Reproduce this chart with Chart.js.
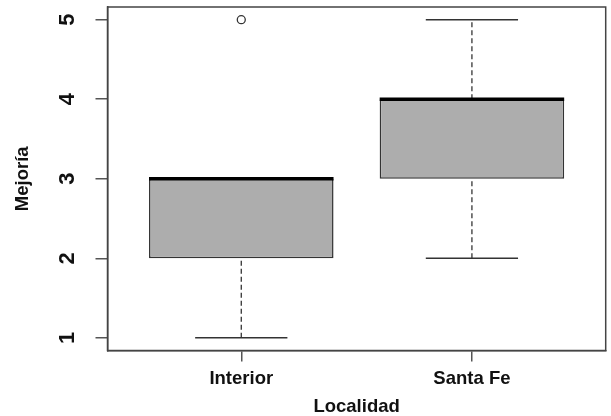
<!DOCTYPE html>
<html>
<head>
<meta charset="utf-8">
<script src="https://cdn.jsdelivr.net/npm/chart.js@4.4.1/dist/chart.umd.min.js"></script>
<style>
  html, body { margin: 0; padding: 0; background: #ffffff; }
  canvas { display: block; }
</style>
</head>
<body>
<canvas id="c" width="611" height="416"></canvas>
<script>
// Box plot summary of "Mejoría" per "Localidad"
const categories   = ['Interior', 'Santa Fe'];
const positions    = [1, 2];
const whiskerLow   = [1, 2];
const q1           = [2, 3];
const median       = [3, 4];
const q3           = [3, 4];
const whiskerHigh  = [3, 5];
const outlierGroup = [0];
const outlierValue = [5];
const yTicks       = [1, 2, 3, 4, 5];

// Geometry in data units along the group axis
const BOX_HALF = 0.4;
const CAP_HALF = 0.2;

const FONT = '"Liberation Sans", Arial, Helvetica, sans-serif';
const INK = '#111111';
const LINE = '#333333';

// Build segment lists (null point breaks the line between segments)
function segments(list) {
  const out = [];
  list.forEach(([x0, y0, x1, y1]) => {
    out.push({ x: x0, y: y0 }, { x: x1, y: y1 }, { x: x1, y: null });
  });
  return out;
}

const whiskerSegs = segments(positions.flatMap((p, i) => [
  [p, whiskerLow[i], p, q1[i]],
  [p, q3[i], p, whiskerHigh[i]]
]));
const capSegs = segments(positions.flatMap((p, i) => [
  [p - CAP_HALF, whiskerLow[i], p + CAP_HALF, whiskerLow[i]],
  [p - CAP_HALF, whiskerHigh[i], p + CAP_HALF, whiskerHigh[i]]
]));
const medianSegs = segments(positions.map((p, i) =>
  [p - BOX_HALF, median[i], p + BOX_HALF, median[i]]
));
const boxData = positions.map((p, i) => ({ x: p, y: [q1[i], q3[i]] }));
const outlierData = outlierGroup.map((g, i) => ({ x: positions[g], y: outlierValue[i] }));

// Full frame around the plotting region
const framePlugin = {
  id: 'frame',
  afterDatasetsDraw(chart) {
    const { ctx, chartArea: a } = chart;
    ctx.save();
    ctx.strokeStyle = '#444444';
    ctx.lineWidth = 1.5;
    ctx.strokeRect(a.left, a.top, a.right - a.left, a.bottom - a.top);
    ctx.restore();
  }
};

// Vertical-axis tick labels written parallel to the axis
const yLabelPlugin = {
  id: 'yLabels',
  afterDraw(chart) {
    const ys = chart.scales.y;
    const ctx = chart.ctx;
    ctx.save();
    ctx.font = 'bold 22px ' + FONT;
    ctx.fillStyle = INK;
    ctx.textAlign = 'center';
    ctx.textBaseline = 'middle';
    ys.ticks.forEach(t => {
      const y = ys.getPixelForValue(t.value);
      ctx.save();
      ctx.translate(ys.right - 40, y);
      ctx.rotate(-Math.PI / 2);
      ctx.fillText(String(t.value), 0, 0);
      ctx.restore();
    });
    ctx.restore();
  }
};

new Chart(document.getElementById('c'), {
  type: 'bar',
  data: {
    datasets: [
      {
        type: 'line', data: whiskerSegs, order: 4,
        borderColor: LINE, borderWidth: 1.3, borderDash: [5, 3],
        pointRadius: 0, spanGaps: false, fill: false
      },
      {
        type: 'line', data: capSegs, order: 3,
        borderColor: LINE, borderWidth: 1.5,
        pointRadius: 0, spanGaps: false, fill: false
      },
      {
        type: 'bar', data: boxData, order: 2,
        backgroundColor: '#adadad', borderColor: LINE, borderWidth: 1.5,
        borderSkipped: false, barPercentage: 2 * BOX_HALF, categoryPercentage: 1,
        grouped: false
      },
      {
        type: 'line', data: medianSegs, order: 1,
        borderColor: '#000000', borderWidth: 3.5, borderCapStyle: 'butt',
        pointRadius: 0, spanGaps: false, fill: false
      },
      {
        type: 'scatter', data: outlierData, order: 0,
        pointStyle: 'circle', pointRadius: 4,
        borderColor: LINE, borderWidth: 1.3, backgroundColor: '#ffffff'
      }
    ]
  },
  options: {
    responsive: false,
    animation: false,
    events: [],
    layout: { padding: { top: 7, right: 3, left: 0, bottom: 0 } },
    plugins: { legend: { display: false }, tooltip: { enabled: false } },
    scales: {
      x: {
        type: 'linear',
        offset: false,
        min: 0.42, max: 2.58,
        afterBuildTicks: s => { s.ticks = positions.map(v => ({ value: v })); },
        afterFit: s => { s.height = 65.5; },
        ticks: {
          callback: (v) => categories[positions.indexOf(v)] || '',
          color: INK,
          font: { family: FONT, size: 18.5, weight: 'bold' },
          padding: 6,
          maxRotation: 0, autoSkip: false
        },
        grid: {
          display: true, offset: false, drawOnChartArea: false, drawTicks: true,
          tickLength: 11, color: '#555555', lineWidth: 1.5
        },
        border: { display: true, color: '#444444', width: 1.5 },
        title: {
          display: true, text: 'Localidad', color: INK,
          font: { family: FONT, size: 18.5, weight: 'bold', lineHeight: 1 },
          padding: 0
        }
      },
      y: {
        type: 'linear',
        min: 0.84, max: 5.16,
        afterBuildTicks: s => { s.ticks = yTicks.map(v => ({ value: v })); },
        afterFit: s => { s.width = 107.5; },
        ticks: { display: false },
        grid: {
          display: true, drawOnChartArea: false, drawTicks: true,
          tickLength: 12, color: '#555555', lineWidth: 1.5
        },
        border: { display: true, color: '#444444', width: 1.5 },
        title: {
          display: true, text: 'Mejoría', color: INK,
          font: { family: FONT, size: 18.5, weight: 'bold', lineHeight: 1 },
          padding: 14
        }
      }
    }
  },
  plugins: [framePlugin, yLabelPlugin]
});
</script>
</body>
</html>
